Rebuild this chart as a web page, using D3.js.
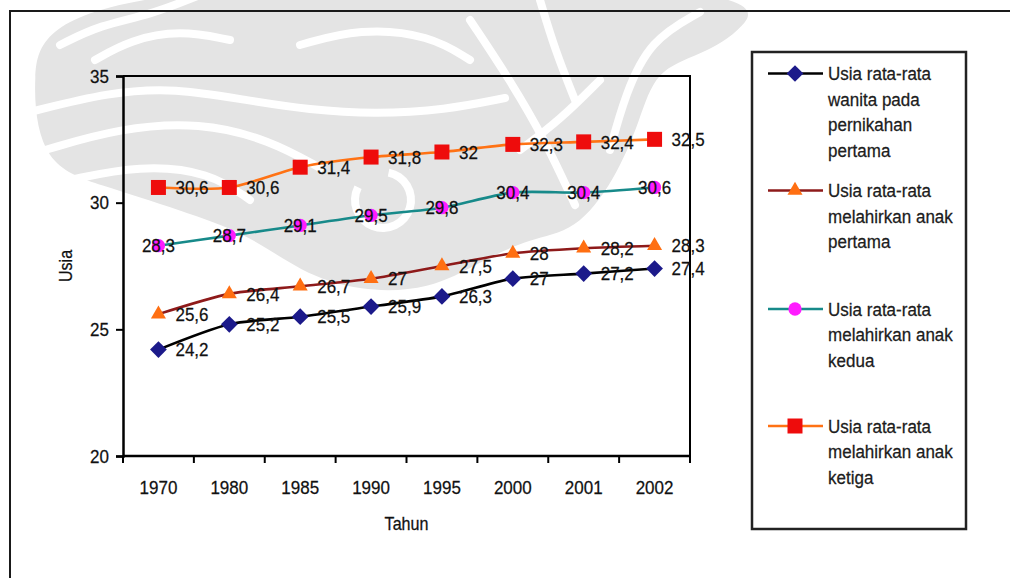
<!DOCTYPE html>
<html>
<head>
<meta charset="utf-8">
<script src="https://cdn.jsdelivr.net/npm/d3@7"></script>
<style>
  html, body { margin: 0; padding: 0; background: #fff; }
  svg { display: block; font-family: "Liberation Sans", Arial, sans-serif; }
  text { stroke: #111; stroke-width: 0.25px; }
</style>
</head>
<body>
<svg id="chart" width="1010" height="578"></svg>
<script>
// Tahun pengamatan
const categories = ["1970", "1980", "1985", "1990", "1995", "2000", "2001", "2002"];

// Usia rata-rata (tahun)
const usiaNikahPertama   = [24.2, 25.2, 25.5, 25.9, 26.3, 27.0, 27.2, 27.4];
const usiaAnakPertama    = [25.6, 26.4, 26.7, 27.0, 27.5, 28.0, 28.2, 28.3];
const usiaAnakKedua      = [28.3, 28.7, 29.1, 29.5, 29.8, 30.4, 30.4, 30.6];
const usiaAnakKetiga     = [30.6, 30.6, 31.4, 31.8, 32.0, 32.3, 32.4, 32.5];

const yTicks = [20, 25, 30, 35];

const seriesNames = [
  ["Usia rata-rata", "wanita pada", "pernikahan", "pertama"],
  ["Usia rata-rata", "melahirkan anak", "pertama"],
  ["Usia rata-rata", "melahirkan anak", "kedua"],
  ["Usia rata-rata", "melahirkan anak", "ketiga"]
];

const series = [
  { values: usiaNikahPertama, name: seriesNames[0], line: "#000000", fill: "#1c1a8a", symbol: d3.symbolSquare,   size: 140, rot: 45, labelPos: "right" },
  { values: usiaAnakPertama,  name: seriesNames[1], line: "#8e1a1a", fill: "#ff6f12", symbol: d3.symbolTriangle, size: 98,  rot: 0,  labelPos: "right" },
  { values: usiaAnakKedua,    name: seriesNames[2], line: "#178a8a", fill: "#ff1cff", symbol: d3.symbolCircle,   size: 138, rot: 0,  labelPos: "center" },
  { values: usiaAnakKetiga,   name: seriesNames[3], line: "#ff7214", fill: "#ee0c0c", symbol: d3.symbolSquare,   size: 225, rot: 0,  labelPos: "right" }
];

const svg = d3.select("#chart");

// Text helper: slightly condensed, tall glyphs
const FONT = 18.5, SX = 0.92;
function label(g, x, y, str, anchor = "start", fill = "#111") {
  return g.append("text")
    .attr("transform", `translate(${x},${y}) scale(${SX},1)`)
    .attr("dy", "0.36em").attr("text-anchor", anchor)
    .attr("font-size", FONT).attr("fill", fill).text(str);
}

// Decorative watermark behind the chart
const wm = svg.append("g").attr("class", "watermark");
const blob = d3.line().curve(d3.curveBasisClosed);
const stroke = d3.line().curve(d3.curveBasis);
wm.append("path")
  .attr("d", blob([[50,-20],[770,-20],[745,30],[700,55],[655,70],[640,120],[615,180],[575,232],[530,238],[480,262],[430,290],[360,292],[300,272],[250,235],[180,210],[100,185],[42,165],[30,80]]))
  .attr("fill", "#e4e4e4");
const whiteCurves = [
  [[60,45],[100,25],[150,15],[200,-5]],
  [[95,60],[130,40],[180,30],[230,40]],
  [[30,112],[110,92],[175,88],[245,100],[310,110],[375,114],[445,110],[505,98]],
  [[45,150],[120,128],[200,122],[270,140],[320,168]],
  [[70,180],[140,165],[210,172],[250,200]],
  [[300,45],[360,28],[430,35],[470,60]],
  [[470,20],[510,80],[545,140],[575,205]],
  [[540,0],[555,50],[575,100]],
  [[700,12],[650,40],[625,95],[610,150]],
  [[520,150],[560,120],[600,80]]
];
whiteCurves.forEach(c => wm.append("path").attr("d", stroke(c))
  .attr("fill", "none").attr("stroke", "#fff").attr("stroke-width", 8).attr("stroke-linecap", "round"));
wm.append("path")
  .attr("d", d3.arc()({ innerRadius: 24, outerRadius: 32, startAngle: 0.2, endAngle: Math.PI * 1.65 }))
  .attr("transform", "translate(383,200)").attr("fill", "#fff");

// Outer frame
svg.append("rect").attr("x", 10).attr("y", 11).attr("width", 1020).attr("height", 600)
  .attr("fill", "none").attr("stroke", "#1a1a1a").attr("stroke-width", 2);

// Plot area
const plot = { left: 123, top: 76, right: 690, bottom: 456 };

const x = d3.scaleBand().domain(categories).range([plot.left, plot.right]).padding(0);
const y = d3.scaleLinear().domain([20, 35]).range([plot.bottom, plot.top]);

// Plot area border (top and right)
svg.append("path")
  .attr("d", `M${plot.left},${plot.top}H${plot.right}V${plot.bottom}`)
  .attr("fill", "none").attr("stroke", "#000").attr("stroke-width", 2);

// Y axis
const yAxis = svg.append("g").attr("transform", `translate(${plot.left},0)`)
  .call(d3.axisLeft(y).tickValues(yTicks).tickSize(7).tickFormat(""));
yAxis.select(".domain").attr("stroke", "#000").attr("stroke-width", 2.5);
yAxis.selectAll(".tick line").attr("stroke", "#000").attr("stroke-width", 2);
yTicks.forEach(t => label(svg, plot.left - 14, y(t), String(t), "end"));

// X axis: ticks between categories
const xAxisG = svg.append("g").attr("transform", `translate(0,${plot.bottom})`);
xAxisG.append("line").attr("x1", plot.left).attr("x2", plot.right)
  .attr("stroke", "#000").attr("stroke-width", 2.5);
const boundaries = categories.map(c => x(c)).concat([x(categories[categories.length - 1]) + x.bandwidth()]);
xAxisG.selectAll(".xtick").data(boundaries).join("line")
  .attr("x1", d => d).attr("x2", d => d).attr("y1", 0).attr("y2", 7)
  .attr("stroke", "#000").attr("stroke-width", 2);
categories.forEach(c => label(svg, x(c) + x.bandwidth() / 2, plot.bottom + 31, c, "middle"));

// Axis titles
svg.append("text").attr("transform", `translate(66,${(plot.top + plot.bottom) / 2}) rotate(-90) scale(${SX},1)`)
  .attr("text-anchor", "middle").attr("dy", "0.35em").attr("font-size", 17.5).attr("fill", "#111").text("Usia");
svg.append("text").attr("transform", `translate(${(plot.left + plot.right) / 2},524) scale(${SX},1)`)
  .attr("dy", "0.35em").attr("text-anchor", "middle").attr("font-size", 17.5).attr("fill", "#111").text("Tahun");

// Series lines (smoothed), markers and value labels
const cx = c => x(c) + x.bandwidth() / 2;
const lineGen = d3.line().curve(d3.curveCardinal.tension(0.25)).x(d => cx(d.c)).y(d => y(d.v));
const fmt = v => String(v).replace(".", ",");

series.forEach(s => {
  const pts = categories.map((c, i) => ({ c, v: s.values[i] }));
  svg.append("path").attr("d", lineGen(pts))
    .attr("fill", "none").attr("stroke", s.line).attr("stroke-width", 2.6);
  svg.append("g").selectAll("path").data(pts).join("path")
    .attr("d", d3.symbol().type(s.symbol).size(s.size))
    .attr("transform", d => `translate(${cx(d.c)},${y(d.v)}) rotate(${s.rot})`)
    .attr("fill", s.fill);
});

const labelsG = svg.append("g");
series.forEach(s => {
  categories.forEach((c, i) => {
    const v = s.values[i];
    if (s.labelPos === "center") label(labelsG, cx(c), y(v), fmt(v), "middle");
    else label(labelsG, cx(c) + 17, y(v), fmt(v), "start");
  });
});

// Legend
const legend = svg.append("g");
legend.append("rect").attr("x", 752).attr("y", 52).attr("width", 214).attr("height", 477)
  .attr("fill", "#fff").attr("stroke", "#222").attr("stroke-width", 2.5);
const legendY = [73.5, 190.5, 309, 426];
series.forEach((s, i) => {
  const gy = legendY[i];
  legend.append("line").attr("x1", 768).attr("x2", 823).attr("y1", gy).attr("y2", gy)
    .attr("stroke", s.line).attr("stroke-width", 2.6);
  legend.append("path").attr("d", d3.symbol().type(s.symbol).size(s.size))
    .attr("transform", `translate(795,${gy}) rotate(${s.rot})`).attr("fill", s.fill);
  s.name.forEach((t, j) => label(legend, 828, gy + j * 25.6, t, "start", "#222"));
});
</script>
</body>
</html>
